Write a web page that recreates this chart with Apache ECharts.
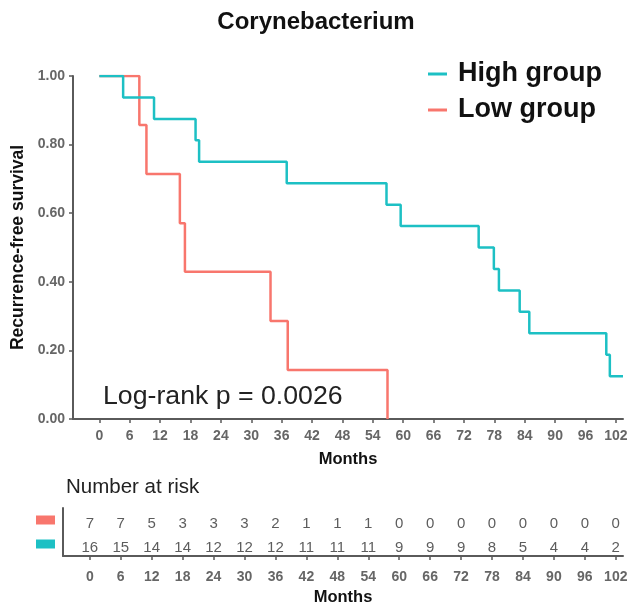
<!DOCTYPE html>
<html>
<head>
<meta charset="utf-8">
<script src="https://cdn.jsdelivr.net/npm/echarts@6/dist/echarts.min.js"></script>
<style>
html,body{margin:0;padding:0;background:#fff;}
#chart{width:632px;height:607px;}
</style>
</head>
<body>
<div id="chart"></div>
<script>
// ---- data ----
const titleText = 'Corynebacterium';
const groupNames = ['High group', 'Low group'];
const highTimes = [0, 4.7, 10.8, 19.0, 19.7, 37.0, 56.7, 59.5, 74.9, 77.9, 78.9, 83.0, 84.9, 100.1, 100.8, 103.4];
const highSurv  = [1.0, 0.9375, 0.875, 0.8125, 0.75, 0.6875, 0.625, 0.5625, 0.5, 0.4375, 0.375, 0.3125, 0.25, 0.1875, 0.125, 0.125];
const lowTimes  = [0, 7.9, 9.3, 15.9, 16.9, 33.8, 37.2, 56.9];
const lowSurv   = [1.0, 0.857, 0.714, 0.571, 0.429, 0.286, 0.143, 0.0];
const tickMonths = [0, 6, 12, 18, 24, 30, 36, 42, 48, 54, 60, 66, 72, 78, 84, 90, 96, 102];
const riskLow  = [7, 7, 5, 3, 3, 3, 2, 1, 1, 1, 0, 0, 0, 0, 0, 0, 0, 0];
const riskHigh = [16, 15, 14, 14, 12, 12, 12, 11, 11, 11, 9, 9, 9, 8, 5, 4, 4, 2];
const riskRows = ['High', 'Low'];
const pText = 'Log-rank p = 0.0026';

const colHigh = '#1DC0C4';
const colLow = '#F8766D';
const axisCol = '#5a5a5a';
const xMin = -5.2, xMax = 103.4;

const chart = echarts.init(document.getElementById('chart'));

const zip = (a, b) => a.map((v, i) => [v, b[i]]);
const riskData = [];
tickMonths.forEach((t, i) => {
  riskData.push({value: [t, 'Low', riskLow[i]]});
  riskData.push({value: [t, 'High', riskHigh[i]]});
});

const axisLineStyle = {show: true, onZero: false, lineStyle: {color: axisCol, width: 2}};
const tickStyle = {show: true, length: 4, lineStyle: {color: axisCol, width: 1.5}};
const font = 'Liberation Sans';

function xAxisDef(gi, labelMargin, nameGap) {
  return {
    gridIndex: gi, type: 'value', min: xMin, max: xMax,
    name: 'Months', nameLocation: 'middle', nameGap: nameGap,
    nameTextStyle: {fontFamily: font, fontWeight: 'bold', fontSize: 16.5, color: '#111'},
    axisLine: axisLineStyle,
    axisTick: Object.assign({customValues: tickMonths}, tickStyle),
    axisLabel: {customValues: tickMonths, margin: labelMargin, fontFamily: font, fontWeight: 'bold',
                fontSize: 14, color: '#666'},
    splitLine: {show: false}
  };
}

const option = {
  backgroundColor: '#fff',
  animation: false,
  title: {
    text: titleText, top: 10, padding: 0,
    left: 316, textAlign: 'center',
    textStyle: {fontFamily: font, fontWeight: 'bold', fontSize: 24, color: '#111'}
  },
  legend: {
    data: groupNames,
    orient: 'vertical', left: 428, top: 59, padding: 0,
    itemWidth: 19, itemHeight: 3, itemGap: 6,
    icon: 'rect',
    textStyle: {fontFamily: font, fontWeight: 'bold', fontSize: 27, color: '#111',
                lineHeight: 30, padding: [0, 0, 0, 6]}
  },
  grid: [
    {left: 73, right: 9, top: 76, height: 343, containLabel: false},
    {left: 63, right: 9, top: 508, height: 52, containLabel: false}
  ],
  xAxis: [xAxisDef(0, 10, 32), xAxisDef(1, 14, 33)],
  yAxis: [
    {
      gridIndex: 0, type: 'value', min: 0, max: 1, interval: 0.2,
      name: 'Recurrence-free survival', nameLocation: 'middle', nameGap: 44, nameRotate: 90,
      nameTextStyle: {fontFamily: font, fontWeight: 'bold', fontSize: 17.5, color: '#111'},
      axisLine: axisLineStyle,
      axisTick: tickStyle,
      axisLabel: {margin: 8, fontFamily: font, fontWeight: 'bold', fontSize: 14, color: '#666',
                  formatter: v => v.toFixed(2)},
      splitLine: {show: false}
    },
    {
      gridIndex: 1, type: 'category', data: riskRows,
      axisLine: axisLineStyle,
      axisTick: {show: false},
      axisLabel: {
        margin: 8,
        formatter: v => v === 'Low' ? '{low|}' : '{high|}',
        rich: {
          low: {backgroundColor: colLow, width: 19, height: 9},
          high: {backgroundColor: colHigh, width: 19, height: 9}
        }
      },
      splitLine: {show: false}
    }
  ],
  graphic: [
    {type: 'text', left: 103, top: 383,
     style: {text: pText, fontFamily: font, fontSize: 26.7, fill: '#222'}},
    {type: 'text', left: 66, top: 477,
     style: {text: 'Number at risk', fontFamily: font, fontSize: 20.5, fill: '#222'}}
  ],
  series: [
    {
      name: 'Low group', type: 'line', xAxisIndex: 0, yAxisIndex: 0,
      step: 'end', showSymbol: false, symbol: 'none',
      data: zip(lowTimes, lowSurv),
      lineStyle: {color: colLow, width: 2.5}, itemStyle: {color: colLow}
    },
    {
      name: 'High group', type: 'line', xAxisIndex: 0, yAxisIndex: 0,
      step: 'end', showSymbol: false, symbol: 'none',
      data: zip(highTimes, highSurv),
      lineStyle: {color: colHigh, width: 2.5}, itemStyle: {color: colHigh}
    },
    {
      name: 'risk', type: 'scatter', xAxisIndex: 1, yAxisIndex: 1,
      symbolSize: 0, data: riskData,
      label: {show: true, position: 'inside', offset: [0, 4], formatter: p => String(p.value[2]),
              fontFamily: font, fontSize: 15, color: '#333'}
    }
  ]
};
chart.setOption(option);
</script>
</body>
</html>
